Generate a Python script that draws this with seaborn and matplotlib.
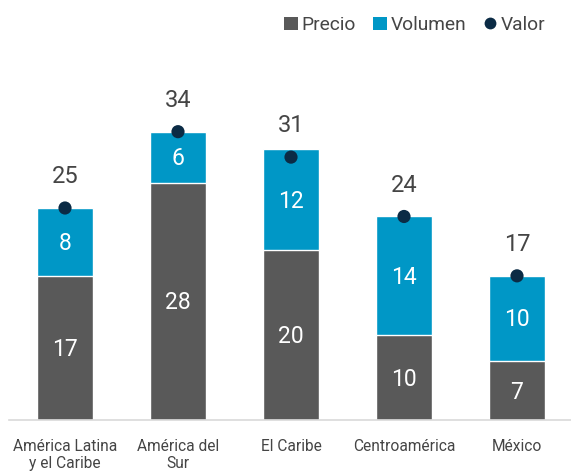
import matplotlib
matplotlib.use("Agg")
import matplotlib.pyplot as plt
import seaborn as sns
import pandas as pd
from matplotlib.patches import Patch
from matplotlib.lines import Line2D

categorias = ["América Latina\ny el Caribe", "América del\nSur", "El Caribe", "Centroamérica", "México"]
precio = [17, 28, 20, 10, 7]
volumen = [8, 6, 12, 14, 10]
valor = [25, 34, 31, 24, 17]

sns.set_theme(style="white")
plt.rcParams["font.family"] = ["Roboto", "DejaVu Sans"]

C_PRECIO = "#595959"
C_VOL = "#0097C6"
C_VALOR = "#0B2B45"
C_TEXT = "#454545"

df = pd.DataFrame({"cat": categorias, "precio": precio, "volumen": volumen,
                   "total": [p + v for p, v in zip(precio, volumen)], "valor": valor})

fig = plt.figure(figsize=(5.71, 4.73), dpi=100)
ax = fig.add_axes([8.5 / 571, (473 - 420) / 473, 565 / 571, (420 - 38.4) / 473])

sns.barplot(data=df, x="cat", y="total", color=C_VOL, width=0.5, saturation=1,
            edgecolor="white", linewidth=1, ax=ax)
sns.barplot(data=df, x="cat", y="precio", color=C_PRECIO, width=0.5, saturation=1,
            edgecolor="white", linewidth=1, ax=ax)
sns.scatterplot(data=df, x="cat", y="valor", color=C_VALOR, s=90, zorder=5,
                edgecolor="none", ax=ax)

for i, (p, v, t) in enumerate(zip(precio, volumen, valor)):
    ax.text(i, p / 2 - 0.2, str(p), ha="center", va="center", color="white", fontsize=16.5)
    ax.text(i, p + v / 2 - 0.2, str(v), ha="center", va="center", color="white", fontsize=16.5)
    ax.annotate(str(t), (i, t), xytext=(0, 22.5), textcoords="offset points",
                ha="center", va="center", color=C_TEXT, fontsize=17)

ax.set_xlim(-0.5, 4.5)
ax.set_ylim(0, 45)
ax.set_xlabel("")
ax.set_ylabel("")
ax.set_yticks([])
ax.tick_params(axis="x", length=0, pad=13.5, labelsize=11.2, labelcolor=C_TEXT)
for s in ["top", "right", "left"]:
    ax.spines[s].set_visible(False)
ax.spines["bottom"].set_color("#D9D9D9")
ax.spines["bottom"].set_linewidth(1.2)

handles = [Patch(facecolor=C_PRECIO, edgecolor="none", label="Precio"),
           Patch(facecolor=C_VOL, edgecolor="none", label="Volumen"),
           Line2D([], [], marker="o", color="none", markerfacecolor=C_VALOR,
                  markeredgecolor="none", markersize=8.5, label="Valor")]
leg = fig.legend(handles=handles, loc="center right", bbox_to_anchor=(0.985, 0.947),
                 ncol=3, frameon=False, handlelength=0.7, handleheight=0.7,
                 handletextpad=0.2, columnspacing=0.9, labelcolor=C_TEXT,
                 prop={"size": 13.8})

fig.savefig("out.png", dpi=100)
